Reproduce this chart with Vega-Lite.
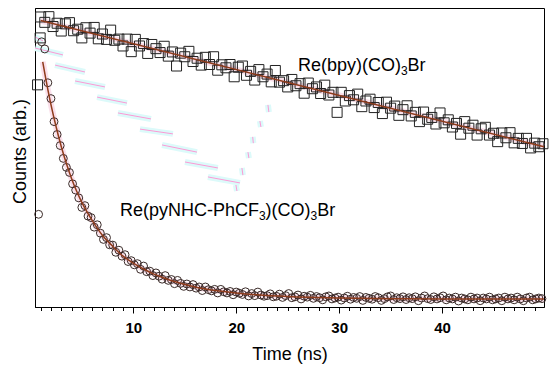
{
  "$schema": "https://vega.github.io/schema/vega-lite/v6.json",
  "width": 509,
  "height": 299,
  "autosize": {"type": "none"},
  "padding": {"left": 35, "top": 8, "right": 6, "bottom": 62},
  "background": "white",
  "config": {
    "font": "Liberation Sans",
    "view": {"stroke": "#000", "strokeWidth": 1}
  },
  "datasets": {
    "squares": [
      {"t":0.7,"c":0.743},{"t":0.95,"c":0.9},
      {"t":1.0,"c":0.970},{"t":1.4,"c":0.952},{"t":1.8,"c":0.971},{"t":2.2,"c":0.938},{"t":2.6,"c":0.949},{"t":3.0,"c":0.923},{"t":3.4,"c":0.947},{"t":3.8,"c":0.951},{"t":4.2,"c":0.924},{"t":4.6,"c":0.929},{"t":5.0,"c":0.900},{"t":5.4,"c":0.934},{"t":5.8,"c":0.916},{"t":6.2,"c":0.935},{"t":6.6,"c":0.897},{"t":7.0,"c":0.913},{"t":7.4,"c":0.895},{"t":7.8,"c":0.926},{"t":8.2,"c":0.892},{"t":8.6,"c":0.896},{"t":9.0,"c":0.873},{"t":9.4,"c":0.896},{"t":9.8,"c":0.854},{"t":10.2,"c":0.895},{"t":10.6,"c":0.873},{"t":11.0,"c":0.881},{"t":11.4,"c":0.848},{"t":11.8,"c":0.878},{"t":12.2,"c":0.864},{"t":12.6,"c":0.851},{"t":13.0,"c":0.872},{"t":13.4,"c":0.839},{"t":13.8,"c":0.853},{"t":14.2,"c":0.806},{"t":14.6,"c":0.849},{"t":15.0,"c":0.837},{"t":15.4,"c":0.855},{"t":15.8,"c":0.821},{"t":16.2,"c":0.832},{"t":16.6,"c":0.809},{"t":17.0,"c":0.835},{"t":17.4,"c":0.811},{"t":17.8,"c":0.837},{"t":18.2,"c":0.792},{"t":18.6,"c":0.810},{"t":19.0,"c":0.800},{"t":19.4,"c":0.811},{"t":19.8,"c":0.770},{"t":20.2,"c":0.802},{"t":20.6,"c":0.806},{"t":21.0,"c":0.775},{"t":21.4,"c":0.788},{"t":21.8,"c":0.759},{"t":22.2,"c":0.794},{"t":22.6,"c":0.770},{"t":23.0,"c":0.779},{"t":23.4,"c":0.753},{"t":23.8,"c":0.791},{"t":24.2,"c":0.752},{"t":24.6,"c":0.757},{"t":25.0,"c":0.736},{"t":25.4,"c":0.761},{"t":25.8,"c":0.740},{"t":26.2,"c":0.747},{"t":26.6,"c":0.715},{"t":27.0,"c":0.749},{"t":27.4,"c":0.730},{"t":27.8,"c":0.736},{"t":28.2,"c":0.714},{"t":28.6,"c":0.742},{"t":29.0,"c":0.709},{"t":29.4,"c":0.718},{"t":29.8,"c":0.651},{"t":30.2,"c":0.718},{"t":30.6,"c":0.689},{"t":31.0,"c":0.707},{"t":31.4,"c":0.693},{"t":31.8,"c":0.712},{"t":32.2,"c":0.670},{"t":32.6,"c":0.689},{"t":33.0,"c":0.695},{"t":33.4,"c":0.667},{"t":33.8,"c":0.684},{"t":34.2,"c":0.647},{"t":34.6,"c":0.685},{"t":35.0,"c":0.665},{"t":35.4,"c":0.672},{"t":35.8,"c":0.641},{"t":36.2,"c":0.660},{"t":36.6,"c":0.673},{"t":37.0,"c":0.639},{"t":37.4,"c":0.651},{"t":37.8,"c":0.620},{"t":38.2,"c":0.652},{"t":38.6,"c":0.628},{"t":39.0,"c":0.634},{"t":39.4,"c":0.612},{"t":39.8,"c":0.649},{"t":40.2,"c":0.616},{"t":40.6,"c":0.626},{"t":41.0,"c":0.602},{"t":41.4,"c":0.614},{"t":41.8,"c":0.578},{"t":42.2,"c":0.620},{"t":42.6,"c":0.598},{"t":43.0,"c":0.608},{"t":43.4,"c":0.575},{"t":43.8,"c":0.596},{"t":44.2,"c":0.601},{"t":44.6,"c":0.575},{"t":45.0,"c":0.581},{"t":45.4,"c":0.553},{"t":45.8,"c":0.582},{"t":46.2,"c":0.566},{"t":46.6,"c":0.583},{"t":47.0,"c":0.549},{"t":47.4,"c":0.564},{"t":47.8,"c":0.547},{"t":48.2,"c":0.564},{"t":48.6,"c":0.532},{"t":49.0,"c":0.548},{"t":49.4,"c":0.536},{"t":49.8,"c":0.546}
    ],
    "circles": [
      {"t":0.8,"c":0.310},{"t":1.1,"c":0.887},{"t":1.4,"c":0.863},{"t":1.7,"c":0.750},{"t":2.0,"c":0.697},{"t":2.3,"c":0.620},{"t":2.6,"c":0.577},{"t":2.9,"c":0.540},{"t":3.2,"c":0.497},{"t":3.5,"c":0.467},{"t":3.8,"c":0.450},{"t":4.1,"c":0.412},{"t":4.4,"c":0.391},{"t":4.7,"c":0.365},{"t":5.0,"c":0.333},{"t":5.3,"c":0.339},{"t":5.6,"c":0.304},{"t":5.9,"c":0.299},{"t":6.2,"c":0.267},{"t":6.5,"c":0.275},{"t":6.8,"c":0.247},{"t":7.1,"c":0.226},{"t":7.4,"c":0.232},{"t":7.7,"c":0.208},{"t":8.0,"c":0.207},{"t":8.3,"c":0.183},{"t":8.6,"c":0.190},{"t":8.9,"c":0.170},{"t":9.2,"c":0.175},{"t":9.5,"c":0.152},{"t":9.8,"c":0.155},{"t":10.1,"c":0.141},{"t":10.4,"c":0.145},{"t":10.7,"c":0.126},{"t":11.0,"c":0.137},{"t":11.3,"c":0.118},{"t":11.6,"c":0.120},{"t":11.9,"c":0.105},{"t":12.2,"c":0.114},{"t":12.5,"c":0.103},{"t":12.8,"c":0.093},{"t":13.1,"c":0.105},{"t":13.4,"c":0.089},{"t":13.7,"c":0.092},{"t":14.0,"c":0.078},{"t":14.3,"c":0.089},{"t":14.6,"c":0.079},{"t":14.9,"c":0.069},{"t":15.2,"c":0.077},{"t":15.5,"c":0.067},{"t":15.8,"c":0.075},{"t":16.1,"c":0.063},{"t":16.4,"c":0.067},{"t":16.7,"c":0.055},{"t":17.0,"c":0.067},{"t":17.3,"c":0.058},{"t":17.6,"c":0.054},{"t":17.9,"c":0.059},{"t":18.2,"c":0.047},{"t":18.5,"c":0.059},{"t":18.8,"c":0.051},{"t":19.1,"c":0.047},{"t":19.4,"c":0.052},{"t":19.7,"c":0.041},{"t":20.0,"c":0.050},{"t":20.3,"c":0.046},{"t":20.6,"c":0.042},{"t":20.9,"c":0.051},{"t":21.2,"c":0.037},{"t":21.5,"c":0.045},{"t":21.8,"c":0.038},{"t":22.1,"c":0.050},{"t":22.4,"c":0.040},{"t":22.7,"c":0.036},{"t":23.0,"c":0.038},{"t":23.3,"c":0.044},{"t":23.6,"c":0.034},{"t":23.9,"c":0.036},{"t":24.2,"c":0.043},{"t":24.5,"c":0.032},{"t":24.8,"c":0.038},{"t":25.1,"c":0.045},{"t":25.4,"c":0.031},{"t":25.7,"c":0.034},{"t":26.0,"c":0.040},{"t":26.3,"c":0.027},{"t":26.6,"c":0.036},{"t":26.9,"c":0.033},{"t":27.2,"c":0.039},{"t":27.5,"c":0.029},{"t":27.8,"c":0.035},{"t":28.1,"c":0.031},{"t":28.4,"c":0.024},{"t":28.7,"c":0.034},{"t":29.0,"c":0.037},{"t":29.3,"c":0.027},{"t":29.6,"c":0.030},{"t":29.9,"c":0.033},{"t":30.2,"c":0.023},{"t":30.5,"c":0.030},{"t":30.8,"c":0.036},{"t":31.1,"c":0.026},{"t":31.4,"c":0.032},{"t":31.7,"c":0.029},{"t":32.0,"c":0.035},{"t":32.3,"c":0.022},{"t":32.6,"c":0.032},{"t":32.9,"c":0.029},{"t":33.2,"c":0.026},{"t":33.5,"c":0.035},{"t":33.8,"c":0.031},{"t":34.1,"c":0.022},{"t":34.4,"c":0.028},{"t":34.7,"c":0.034},{"t":35.0,"c":0.037},{"t":35.3,"c":0.025},{"t":35.6,"c":0.031},{"t":35.9,"c":0.028},{"t":36.2,"c":0.034},{"t":36.5,"c":0.025},{"t":36.8,"c":0.031},{"t":37.1,"c":0.028},{"t":37.4,"c":0.034},{"t":37.7,"c":0.021},{"t":38.0,"c":0.030},{"t":38.3,"c":0.037},{"t":38.6,"c":0.028},{"t":38.9,"c":0.025},{"t":39.2,"c":0.034},{"t":39.5,"c":0.027},{"t":39.8,"c":0.031},{"t":40.1,"c":0.037},{"t":40.4,"c":0.024},{"t":40.7,"c":0.030},{"t":41.0,"c":0.027},{"t":41.3,"c":0.033},{"t":41.6,"c":0.020},{"t":41.9,"c":0.030},{"t":42.2,"c":0.027},{"t":42.5,"c":0.024},{"t":42.8,"c":0.033},{"t":43.1,"c":0.027},{"t":43.4,"c":0.030},{"t":43.7,"c":0.021},{"t":44.0,"c":0.030},{"t":44.3,"c":0.027},{"t":44.6,"c":0.033},{"t":44.9,"c":0.024},{"t":45.2,"c":0.027},{"t":45.5,"c":0.030},{"t":45.8,"c":0.021},{"t":46.1,"c":0.033},{"t":46.4,"c":0.027},{"t":46.7,"c":0.030},{"t":47.0,"c":0.024},{"t":47.3,"c":0.033},{"t":47.6,"c":0.027},{"t":47.9,"c":0.021},{"t":48.2,"c":0.030},{"t":48.5,"c":0.033},{"t":48.8,"c":0.024},{"t":49.1,"c":0.027},{"t":49.4,"c":0.030},{"t":49.7,"c":0.028}
    ],
    "fits": [
      {"s":"A","t":1.0,"c":0.958},{"s":"A","t":25.0,"c":0.751},{"s":"A","t":49.9,"c":0.536},
      {"s":"B","t":1.2,"c":0.820},{"s":"B","t":1.5,"c":0.763},{"s":"B","t":1.7,"c":0.727},{"s":"B","t":2.0,"c":0.677},{"s":"B","t":2.5,"c":0.603},{"s":"B","t":3.0,"c":0.537},{"s":"B","t":3.5,"c":0.480},{"s":"B","t":4.0,"c":0.430},{"s":"B","t":4.5,"c":0.387},{"s":"B","t":5.0,"c":0.350},{"s":"B","t":6.0,"c":0.290},{"s":"B","t":7.0,"c":0.240},{"s":"B","t":8.0,"c":0.203},{"s":"B","t":9.0,"c":0.170},{"s":"B","t":10.0,"c":0.147},{"s":"B","t":11.0,"c":0.127},{"s":"B","t":12.0,"c":0.110},{"s":"B","t":13.0,"c":0.097},{"s":"B","t":14.0,"c":0.085},{"s":"B","t":16.0,"c":0.067},{"s":"B","t":18.0,"c":0.055},{"s":"B","t":20.0,"c":0.047},{"s":"B","t":22.0,"c":0.041},{"s":"B","t":25.0,"c":0.035},{"s":"B","t":30.0,"c":0.030},{"s":"B","t":35.0,"c":0.028},{"s":"B","t":40.0,"c":0.027},{"s":"B","t":49.9,"c":0.027}
    ],
    "ghosts": [
      {"t":0.46,"c":0.903,"t2":1.23,"c2":0.890},
      {"t":0.46,"c":0.866,"t2":3.17,"c2":0.843},
      {"t":2.40,"c":0.809,"t2":5.31,"c2":0.786},
      {"t":4.34,"c":0.756,"t2":7.25,"c2":0.736},
      {"t":6.48,"c":0.702,"t2":9.39,"c2":0.682},
      {"t":8.51,"c":0.649,"t2":11.72,"c2":0.629},
      {"t":10.65,"c":0.595,"t2":13.85,"c2":0.579},
      {"t":12.79,"c":0.542,"t2":16.19,"c2":0.518},
      {"t":15.02,"c":0.485,"t2":18.22,"c2":0.465},
      {"t":17.25,"c":0.435,"t2":20.36,"c2":0.415},
      {"t":23.08,"c":0.676,"t2":23.17,"c2":0.652},
      {"t":22.30,"c":0.622,"t2":22.40,"c2":0.602},
      {"t":21.60,"c":0.569,"t2":21.66,"c2":0.548},
      {"t":21.14,"c":0.518,"t2":21.23,"c2":0.498},
      {"t":20.55,"c":0.465,"t2":20.65,"c2":0.441},
      {"t":19.97,"c":0.408,"t2":20.07,"c2":0.388}
    ],
    "labels": [
      {"part":"b1","t":26.0,"c":0.789,"text":"Re(bpy)(CO)"},
      {"part":"b2","t":26.0,"c":0.789,"text":"3"},
      {"part":"b3","t":26.0,"c":0.789,"text":"Br"},
      {"part":"p1","t":8.7,"c":0.304,"text":"Re(pyNHC-PhCF"},
      {"part":"p2","t":8.7,"c":0.304,"text":"3"},
      {"part":"p3","t":8.7,"c":0.304,"text":")(CO)"},
      {"part":"p4","t":8.7,"c":0.304,"text":"3"},
      {"part":"p5","t":8.7,"c":0.304,"text":"Br"}
    ]
  },
  "encoding": {
    "x": {
      "field": "t", "type": "quantitative",
      "scale": {"domain": [0.45, 49.9], "nice": false, "zero": false},
      "axis": {
        "title": "Time (ns)",
        "values": [1,2,3,4,5,6,7,8,9,10,11,12,13,14,15,16,17,18,19,20,21,22,23,24,25,26,27,28,29,30,31,32,33,34,35,36,37,38,39,40,41,42,43,44,45,46,47,48,49],
        "labelExpr": "datum.value % 10 === 0 ? datum.label : ''",
        "tickSize": {"condition": {"test": "datum.value % 10 === 0", "value": 6}, "value": 3.5},
        "tickColor": "#000", "tickWidth": 1,
        "domainColor": "#000",
        "grid": false,
        "labelFont": "Liberation Sans", "labelFontSize": 15, "labelFontWeight": "bold", "labelColor": "#000",
        "labelBaseline": "alphabetic", "labelPadding": 19, "labelFlush": false, "labelOverlap": false,
        "titleFont": "Liberation Sans", "titleFontSize": 18, "titleFontWeight": "normal", "titleColor": "#000",
        "titleBaseline": "alphabetic", "titleY": 52
      }
    },
    "y": {
      "field": "c", "type": "quantitative",
      "scale": {"domain": [0, 1], "nice": false, "zero": false},
      "axis": {
        "title": "Counts (arb.)",
        "ticks": false, "labels": false, "grid": false,
        "domainColor": "#000",
        "titleFont": "Liberation Sans", "titleFontSize": 18, "titleFontWeight": "normal", "titleColor": "#000",
        "titleBaseline": "alphabetic", "titleX": -10, "titleY": 143, "titleAngle": 270
      }
    }
  },
  "layer": [
    {"data": {"name": "ghosts"}, "mark": {"type": "rule", "stroke": "#dcfafa", "strokeWidth": 6, "strokeCap": "butt"}, "encoding": {"x": {"field": "t", "type": "quantitative"}, "y": {"field": "c", "type": "quantitative"}, "x2": {"field": "t2"}, "y2": {"field": "c2"}}},
    {"data": {"name": "ghosts"}, "mark": {"type": "rule", "stroke": "#ff8fd0", "strokeWidth": 1, "opacity": 0.9}, "encoding": {"x": {"field": "t", "type": "quantitative"}, "y": {"field": "c", "type": "quantitative"}, "x2": {"field": "t2"}, "y2": {"field": "c2"}}},
    {"data": {"name": "fits"}, "mark": {"type": "line", "stroke": "#f6c4d9", "strokeWidth": 6, "opacity": 0.55, "interpolate": "monotone"}, "encoding": {"detail": {"field": "s"}}},
    {"data": {"name": "squares"}, "mark": {"type": "point", "shape": "square", "size": 100, "filled": false, "stroke": "#222", "strokeWidth": 1, "opacity": 1}},
    {"data": {"name": "circles"}, "mark": {"type": "point", "shape": "circle", "size": 62, "filled": false, "stroke": "#3a2a28", "strokeWidth": 1, "opacity": 1}},
    {"data": {"name": "fits"}, "mark": {"type": "line", "stroke": "#8e3b1c", "strokeWidth": 1.5, "interpolate": "monotone"}, "encoding": {"detail": {"field": "s"}}},
    {"data": {"name": "labels"}, "transform": [{"filter": "datum.part === 'b1'"}], "mark": {"type": "text", "align": "left", "baseline": "alphabetic", "fontSize": 18, "font": "Liberation Sans", "color": "#000"}, "encoding": {"text": {"field": "text"}}},
    {"data": {"name": "labels"}, "transform": [{"filter": "datum.part === 'b2'"}], "mark": {"type": "text", "align": "left", "baseline": "alphabetic", "fontSize": 12, "font": "Liberation Sans", "color": "#000", "dx": 103, "dy": 4}, "encoding": {"text": {"field": "text"}}},
    {"data": {"name": "labels"}, "transform": [{"filter": "datum.part === 'b3'"}], "mark": {"type": "text", "align": "left", "baseline": "alphabetic", "fontSize": 18, "font": "Liberation Sans", "color": "#000", "dx": 109.6}, "encoding": {"text": {"field": "text"}}},
    {"data": {"name": "labels"}, "transform": [{"filter": "datum.part === 'p1'"}], "mark": {"type": "text", "align": "left", "baseline": "alphabetic", "fontSize": 18, "font": "Liberation Sans", "color": "#000"}, "encoding": {"text": {"field": "text"}}},
    {"data": {"name": "labels"}, "transform": [{"filter": "datum.part === 'p2'"}], "mark": {"type": "text", "align": "left", "baseline": "alphabetic", "fontSize": 12, "font": "Liberation Sans", "color": "#000", "dx": 139, "dy": 4}, "encoding": {"text": {"field": "text"}}},
    {"data": {"name": "labels"}, "transform": [{"filter": "datum.part === 'p3'"}], "mark": {"type": "text", "align": "left", "baseline": "alphabetic", "fontSize": 18, "font": "Liberation Sans", "color": "#000", "dx": 145.7}, "encoding": {"text": {"field": "text"}}},
    {"data": {"name": "labels"}, "transform": [{"filter": "datum.part === 'p4'"}], "mark": {"type": "text", "align": "left", "baseline": "alphabetic", "fontSize": 12, "font": "Liberation Sans", "color": "#000", "dx": 190.7, "dy": 4}, "encoding": {"text": {"field": "text"}}},
    {"data": {"name": "labels"}, "transform": [{"filter": "datum.part === 'p5'"}], "mark": {"type": "text", "align": "left", "baseline": "alphabetic", "fontSize": 18, "font": "Liberation Sans", "color": "#000", "dx": 197.4}, "encoding": {"text": {"field": "text"}}}
  ]
}
